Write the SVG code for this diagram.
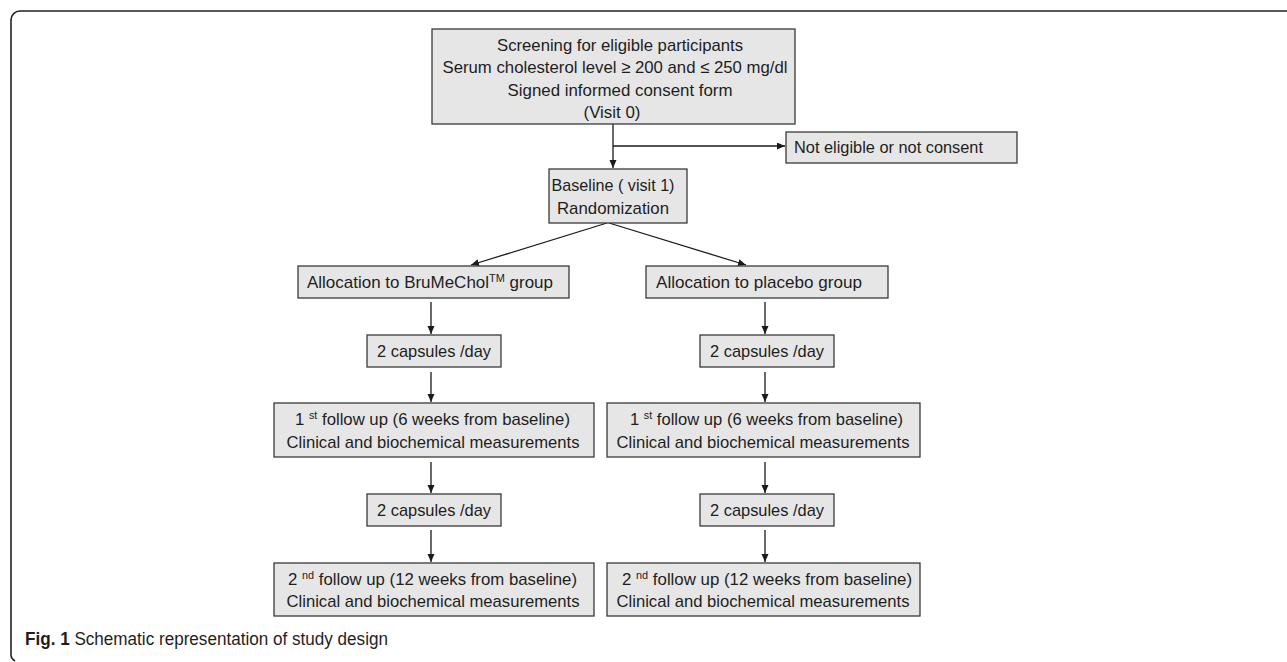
<svg xmlns="http://www.w3.org/2000/svg" width="1287" height="662" viewBox="0 0 1287 662">
<style>
.box{fill:#e6e6e6;stroke:#3a3a3a;stroke-width:1.3}
.t{font-family:"Liberation Sans",Arial,sans-serif;font-size:17px;fill:#1e1e1e}
.c{text-anchor:middle}
.sup{font-size:11px}
.con{stroke:#1a1a1a;stroke-width:1.3;fill:none;marker-end:url(#ah)}
.cap{font-family:"Liberation Sans",Arial,sans-serif;font-size:17.5px;fill:#1e1e1e}
</style>
<defs>
<marker id="ah" markerUnits="userSpaceOnUse" markerWidth="9" markerHeight="8" refX="8" refY="3.5" orient="auto">
<path d="M0,0 L8,3.5 L0,7 z" fill="#1a1a1a"/>
</marker>
</defs>
<rect width="1287" height="662" fill="#ffffff"/>
<path d="M1287,11 H20 A9,9 0 0 0 11,20 V653 A8,8 0 0 0 15,661" fill="none" stroke="#222" stroke-width="1.6"/>

<g id="connectors">
<line class="con" x1="613" y1="124" x2="613" y2="168"/>
<polyline class="con" points="613,146 785,146"/>
<line class="con" x1="607" y1="223" x2="471" y2="265"/>
<line class="con" x1="609" y1="223" x2="746" y2="265"/>
<line class="con" x1="431" y1="302" x2="431" y2="334"/>
<line class="con" x1="431" y1="372" x2="431" y2="402"/>
<line class="con" x1="431" y1="462" x2="431" y2="493"/>
<line class="con" x1="431" y1="530" x2="431" y2="562"/>
<line class="con" x1="765" y1="302" x2="765" y2="334"/>
<line class="con" x1="765" y1="372" x2="765" y2="402"/>
<line class="con" x1="765" y1="462" x2="765" y2="493"/>
<line class="con" x1="765" y1="530" x2="765" y2="562"/>
</g>

<g id="screening">
<rect class="box" x="432" y="29" width="363" height="95"/>
<text class="t c" x="620" y="51" textLength="246" lengthAdjust="spacingAndGlyphs">Screening for eligible participants</text>
<text class="t c" x="615" y="73" textLength="345" lengthAdjust="spacingAndGlyphs">Serum cholesterol level ≥ 200 and ≤ 250 mg/dl</text>
<text class="t c" x="620" y="96" textLength="225" lengthAdjust="spacingAndGlyphs">Signed informed consent form</text>
<text class="t c" x="612" y="118" textLength="57" lengthAdjust="spacingAndGlyphs">(Visit 0)</text>
</g>

<g id="not-eligible">
<rect class="box" x="786" y="132" width="231" height="31"/>
<text class="t" x="794" y="153" textLength="189" lengthAdjust="spacingAndGlyphs">Not eligible or not consent</text>
</g>

<g id="baseline">
<rect class="box" x="549" y="169" width="138" height="54"/>
<text class="t c" x="613" y="191" textLength="123" lengthAdjust="spacingAndGlyphs">Baseline ( visit 1)</text>
<text class="t c" x="613" y="214" textLength="112" lengthAdjust="spacingAndGlyphs">Randomization</text>
</g>

<g id="alloc-brumechol">
<rect class="box" x="298" y="266" width="271" height="32"/>
<text class="t" x="307" y="288" textLength="246" lengthAdjust="spacingAndGlyphs">Allocation to BruMeChol<tspan class="sup" dy="-6">TM</tspan><tspan dy="6"> group</tspan></text>
</g>

<g id="alloc-placebo">
<rect class="box" x="646" y="266" width="242" height="32"/>
<text class="t" x="656" y="288" textLength="206" lengthAdjust="spacingAndGlyphs">Allocation to placebo group</text>
</g>

<g id="caps-left-1">
<rect class="box" x="367" y="335" width="134" height="32"/>
<text class="t c" x="434" y="357" textLength="114" lengthAdjust="spacingAndGlyphs">2 capsules /day</text>
</g>

<g id="caps-right-1">
<rect class="box" x="700" y="335" width="134" height="32"/>
<text class="t c" x="767" y="357" textLength="114" lengthAdjust="spacingAndGlyphs">2 capsules /day</text>
</g>

<g id="followup1-left">
<rect class="box" x="274" y="403" width="320" height="54"/>
<text class="t" x="295" y="425" textLength="275" lengthAdjust="spacingAndGlyphs">1 <tspan class="sup" dy="-6">st</tspan><tspan dy="6"> follow up (6 weeks from baseline)</tspan></text>
<text class="t c" x="433" y="448" textLength="293" lengthAdjust="spacingAndGlyphs">Clinical and biochemical measurements</text>
</g>

<g id="followup1-right">
<rect class="box" x="607" y="403" width="313" height="54"/>
<text class="t" x="630" y="425" textLength="273" lengthAdjust="spacingAndGlyphs">1 <tspan class="sup" dy="-6">st</tspan><tspan dy="6"> follow up (6 weeks from baseline)</tspan></text>
<text class="t c" x="763" y="448" textLength="293" lengthAdjust="spacingAndGlyphs">Clinical and biochemical measurements</text>
</g>

<g id="caps-left-2">
<rect class="box" x="367" y="494" width="134" height="32"/>
<text class="t c" x="434" y="516" textLength="114" lengthAdjust="spacingAndGlyphs">2 capsules /day</text>
</g>

<g id="caps-right-2">
<rect class="box" x="700" y="494" width="134" height="32"/>
<text class="t c" x="767" y="516" textLength="114" lengthAdjust="spacingAndGlyphs">2 capsules /day</text>
</g>

<g id="followup2-left">
<rect class="box" x="274" y="563" width="320" height="53"/>
<text class="t" x="288" y="585" textLength="289" lengthAdjust="spacingAndGlyphs">2 <tspan class="sup" dy="-6">nd</tspan><tspan dy="6"> follow up (12 weeks from baseline)</tspan></text>
<text class="t c" x="433" y="607" textLength="293" lengthAdjust="spacingAndGlyphs">Clinical and biochemical measurements</text>
</g>

<g id="followup2-right">
<rect class="box" x="607" y="563" width="313" height="53"/>
<text class="t" x="622" y="585" textLength="290" lengthAdjust="spacingAndGlyphs">2 <tspan class="sup" dy="-6">nd</tspan><tspan dy="6"> follow up (12 weeks from baseline)</tspan></text>
<text class="t c" x="763" y="607" textLength="293" lengthAdjust="spacingAndGlyphs">Clinical and biochemical measurements</text>
</g>

<g id="caption">
<text class="cap" x="25" y="645" textLength="363" lengthAdjust="spacingAndGlyphs"><tspan font-weight="bold">Fig. 1</tspan> Schematic representation of study design</text>
</g>
</svg>
